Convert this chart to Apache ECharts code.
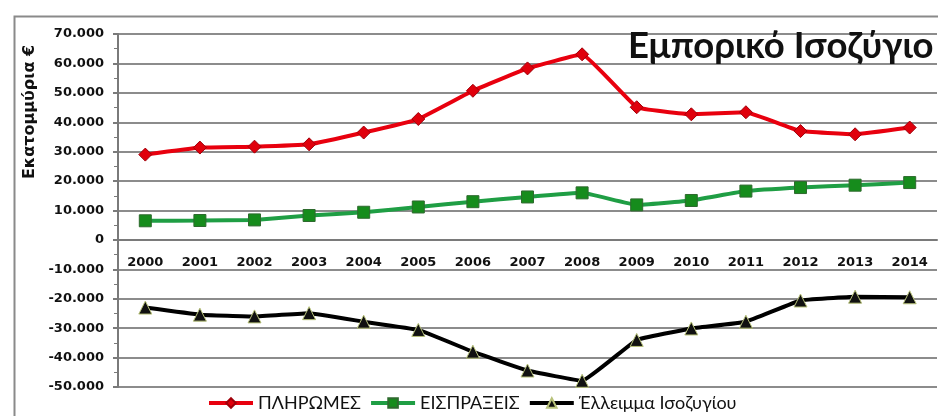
<!DOCTYPE html>
<html><head><meta charset="utf-8">
<script src="https://cdn.jsdelivr.net/npm/echarts@6/dist/echarts.min.js"></script>
<style>html,body{margin:0;padding:0;background:#fff}#c{width:938px;height:416px}</style>
</head><body><div id="c"></div>
<script>
const years = ['2000','2001','2002','2003','2004','2005','2006','2007','2008','2009','2010','2011','2012','2013','2014'];
const payments = [29000,31400,31700,32500,36500,41100,50700,58300,63100,45100,42700,43400,37000,35900,38200];
const receipts = [6500,6600,6800,8300,9400,11200,13000,14600,16000,11900,13400,16600,17800,18600,19500];
const deficit = [-23000,-25400,-26000,-24900,-27800,-30600,-38000,-44400,-47900,-34000,-30100,-27800,-20600,-19300,-19500];
const seriesNames = ['ΠΛΗΡΩΜΕΣ','ΕΙΣΠΡΑΞΕΙΣ','Έλλειμμα Ισοζυγίου'];
const yTicks = {min:-50000, max:70000, step:10000};
const titleText = 'Εμπορικό Ισοζύγιο';
const yName = 'Εκατομμύρια €';

function fmt(v){
  const s = Math.abs(v).toString().replace(/\B(?=(\d{3})+(?!\d))/g,'.');
  return (v<0?'-':'') + s;
}
const gridTop = 34, gridBottom = 29, H = 416;
const plotH = H - gridTop - gridBottom;
const zeroOffset = plotH * (0 - yTicks.min) / (yTicks.max - yTicks.min);

const chart = echarts.init(document.getElementById('c'), null, {renderer:'canvas'});
chart.setOption({
  backgroundColor:'#fff',
  animation:false,
  title:{text:titleText,left:623,top:23,textStyle:{fontFamily:'Lato',fontWeight:'bold',fontSize:36.5,color:'#111'}},
  graphic:[
    {type:'rect',left:12,top:14,shape:{width:940,height:420},style:{fill:'none',stroke:'#8a8a8a',lineWidth:2},silent:true,z:-1},
    {type:'text',x:30,y:112,rotation:Math.PI/2,style:{text:yName,align:'center',verticalAlign:'middle',font:'bold 16px "DejaVu Sans"',fill:'#111'}}
  ],
  legend:{
    bottom:-1,left:202,itemWidth:44,itemHeight:12,itemGap:8,
    lineStyle:{width:4},
    textStyle:{fontFamily:'Lato',fontSize:18,color:'#111'},
    data:seriesNames
  },
  grid:{left:118,right:1,top:gridTop,bottom:gridBottom,containLabel:false},
  xAxis:{
    type:'category',data:years,boundaryGap:true,
    offset:-zeroOffset,
    axisLine:{onZero:false,lineStyle:{color:'#7a7a7a',width:2}},
    axisTick:{alignWithLabel:true,length:6,lineStyle:{color:'#7a7a7a',width:2}},
    axisLabel:{margin:16,fontFamily:'DejaVu Sans',fontWeight:'bold',fontSize:13,color:'#111'}
  },
  yAxis:{
    type:'value',min:yTicks.min,max:yTicks.max,interval:yTicks.step,
    axisLine:{show:true,lineStyle:{color:'#7a7a7a',width:2}},
    axisTick:{show:true,length:5,lineStyle:{color:'#7a7a7a',width:2}},
    minorTick:{show:true,splitNumber:2,length:4,lineStyle:{color:'#7a7a7a'}},
    splitLine:{lineStyle:{color:'#8c8c8c',width:2}},
    axisLabel:{margin:14,formatter:fmt,fontFamily:'DejaVu Sans',fontWeight:'bold',fontSize:13,color:'#111'}
  },
  series:[
    {name:seriesNames[0],type:'line',data:payments,symbol:'diamond',symbolSize:13,smooth:0.08,
     lineStyle:{color:'#e8000e',width:4},itemStyle:{color:'#e0000c',borderColor:'#a0000a',borderWidth:1}},
    {name:seriesNames[1],type:'line',data:receipts,symbol:'rect',symbolSize:12,smooth:0.08,
     lineStyle:{color:'#1f9e44',width:4},itemStyle:{color:'#168c1c',borderColor:'#2e6a2e',borderWidth:1}},
    {name:seriesNames[2],type:'line',data:deficit,symbol:'triangle',symbolSize:13,smooth:0.08,
     lineStyle:{color:'#000',width:4},itemStyle:{color:'#111',borderColor:'#b8c27a',borderWidth:1}}
  ]
});
</script></body></html>
